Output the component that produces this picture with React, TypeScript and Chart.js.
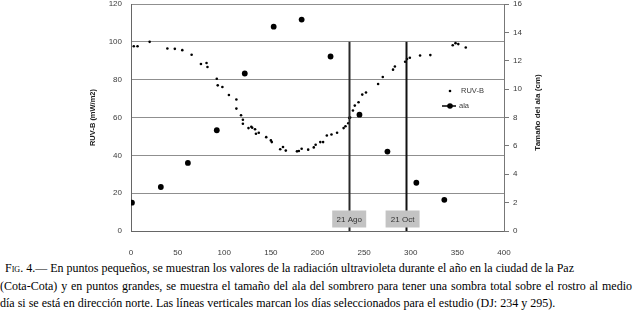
import React, { useEffect, useRef } from "react";
import { Chart, registerables } from "chart.js";

Chart.register(...registerables);

// Small points: RUV-B radiation (mW/m2) by day of year
const ruvDays = [3, 7, 20, 39, 47, 55, 65, 75, 81, 82, 92, 93, 98, 105, 113, 113, 118, 120, 120, 126, 129, 130, 133, 134, 137, 145, 150, 151, 160, 163, 166, 178, 180, 183, 190, 196, 198, 203, 206, 210, 215, 221, 228, 230, 233, 234, 235, 238, 240, 244, 248, 252, 265, 270, 281, 283, 294, 296, 299, 310, 321, 345, 348, 351, 359];
const ruvValues = [97.7, 97.7, 100, 96.5, 96.3, 95.6, 93.2, 88.3, 88.8, 86.7, 80.5, 77, 76.1, 71.9, 69.5, 64.7, 61.2, 58.8, 56.7, 54.4, 55.1, 54.6, 53.8, 51.4, 51.9, 49.6, 47.9, 47, 43.2, 44.4, 42.5, 42.1, 42.3, 43.5, 43, 44.2, 45.6, 47, 47, 50.5, 51, 51.9, 54.4, 55.4, 57, 59.8, 60, 63.7, 66.3, 68.1, 72.1, 73.2, 77.7, 81.4, 85.3, 87, 89.5, 90.9, 91.6, 92.8, 93, 98.2, 99.3, 98.8, 97];

// Large points: brim size (cm) by day of year
const alaDays = [1, 32, 61, 92, 122, 153, 183, 214, 245, 275, 306, 336];
const alaValues = [2.0, 3.1, 4.8, 7.1, 11.1, 14.4, 14.9, 12.3, 8.2, 5.6, 3.4, 2.2];

// Selected days (vertical lines)
const markerDays = [234, 295];
const markerLabels = ["21 Ago", "21 Oct"];

const xTicks = [0, 50, 100, 150, 200, 250, 300, 350, 400];
const leftTitle = "RUV-B (mW/m2)";
const rightTitle = "Tamaño del ala (cm)";

const TEXT = "#3a3a3a";
const SANS = "'Liberation Sans', Arial, sans-serif";

export default function App() {
  const ref = useRef<HTMLCanvasElement | null>(null);

  useEffect(() => {
    if (!ref.current) return;
    const overlay = {
      id: "overlay",
      afterDatasetsDraw(chart: any) {
        const { ctx, chartArea, scales } = chart;
        const x = scales.x;
        const y = scales.y;
        ctx.save();
        // vertical lines
        markerDays.forEach((d, i) => {
          const px = Math.round(x.getPixelForValue(d)) + 0.5;
          ctx.strokeStyle = i === 0 ? "#2a2a2a" : "#111";
          ctx.lineWidth = 2;
          ctx.beginPath();
          ctx.moveTo(px, y.getPixelForValue(100));
          ctx.lineTo(px, chartArea.bottom);
          ctx.stroke();
        });
        // label boxes
        markerDays.forEach((d, i) => {
          const cx = x.getPixelForValue(d) + (i === 1 ? -3.5 : 0);
          const w = 34, h = 17;
          const top = chartArea.bottom - 20.5;
          ctx.fillStyle = "#c3c3c3";
          ctx.fillRect(cx - w / 2, top, w, h);
          ctx.fillStyle = "#333";
          ctx.font = `8px ${SANS}`;
          ctx.textAlign = "center";
          ctx.textBaseline = "middle";
          ctx.fillText(markerLabels[i], cx, top + h / 2 + 0.5);
        });
        // legend
        const ds = chart.data.datasets;
        const lx = chartArea.right - 54;
        const ly1 = chartArea.top + 87;
        const ly2 = chartArea.top + 102;
        ctx.fillStyle = "#000";
        ctx.beginPath();
        ctx.arc(lx, ly1, 1.3, 0, Math.PI * 2);
        ctx.fill();
        ctx.strokeStyle = "#000";
        ctx.lineWidth = 1.5;
        ctx.beginPath();
        ctx.moveTo(lx - 8, ly2);
        ctx.lineTo(lx + 6, ly2);
        ctx.stroke();
        ctx.beginPath();
        ctx.arc(lx, ly2, 2.8, 0, Math.PI * 2);
        ctx.fill();
        ctx.fillStyle = TEXT;
        ctx.font = `7.5px ${SANS}`;
        ctx.textAlign = "left";
        ctx.textBaseline = "middle";
        ctx.fillText(ds[0].label, lx + 11, ly1);
        ctx.fillText(ds[1].label, lx + 9, ly2);
        // right axis title
        ctx.save();
        ctx.translate(538, (chartArea.top + chartArea.bottom) / 2 - 5);
        ctx.rotate(-Math.PI / 2);
        ctx.font = `bold 8px ${SANS}`;
        ctx.fillStyle = "#222";
        ctx.textAlign = "center";
        ctx.textBaseline = "middle";
        ctx.fillText(rightTitle, 0, 0);
        ctx.restore();
        ctx.restore();
      },
    };

    const chart = new Chart(ref.current, {
      type: "scatter",
      data: {
        datasets: [
          {
            label: "RUV-B",
            data: ruvDays.map((d, i) => ({ x: d, y: ruvValues[i] })),
            yAxisID: "y",
            pointRadius: 1.3,
            pointBorderWidth: 0,
            backgroundColor: "#000",
            borderColor: "#000",
          },
          {
            label: "ala",
            data: alaDays.map((d, i) => ({ x: d, y: alaValues[i] })),
            yAxisID: "y2",
            pointRadius: 2.9,
            pointBorderWidth: 0,
            backgroundColor: "#000",
            borderColor: "#000",
            showLine: false,
          },
        ],
      },
      options: {
        animation: false,
        responsive: false,
        maintainAspectRatio: false,
        layout: { padding: { top: 3.5, left: 0, right: 0, bottom: 0 } },
        plugins: { legend: { display: false }, tooltip: { enabled: false } },
        scales: {
          x: {
            type: "linear",
            min: 0,
            max: 400,
            afterBuildTicks: (s: any) => {
              s.ticks = xTicks.map((v) => ({ value: v }));
            },
            ticks: { color: TEXT, font: { family: SANS, size: 8 }, padding: 9, maxRotation: 0 },
            grid: { display: false },
            border: { display: true, color: "#666", width: 1 },
            afterFit: (s: any) => {
              s.height = 25;
              s.paddingLeft = 0;
              s.paddingRight = 0;
            },
          },
          y: {
            type: "linear",
            position: "left",
            min: 0,
            max: 120,
            ticks: { stepSize: 20, color: TEXT, font: { family: SANS, size: 8 }, padding: 9 },
            grid: { color: "#8f8f8f", lineWidth: 1, drawTicks: false },
            border: { display: true, color: "#666", width: 1 },
            title: {
              display: true,
              text: leftTitle,
              color: "#222",
              font: { family: SANS, size: 7.5, weight: "bold" },
              padding: { top: 88, bottom: 0 },
            },
            afterFit: (s: any) => {
              s.width = 131;
              s.paddingTop = 0;
              s.paddingBottom = 0;
            },
          },
          y2: {
            type: "linear",
            position: "right",
            min: 0,
            max: 16,
            ticks: { stepSize: 2, color: TEXT, font: { family: SANS, size: 8 }, padding: 4 },
            grid: { drawOnChartArea: false, drawTicks: true, tickLength: 5, color: "#777" },
            border: { display: true, color: "#777", width: 1 },
            afterFit: (s: any) => {
              s.width = 130;
              s.paddingTop = 0;
              s.paddingBottom = 0;
            },
          },
        },
      },
      plugins: [overlay],
    } as any);
    return () => chart.destroy();
  }, []);

  return (
    <div style={{ position: "absolute", left: 0, top: 0, width: 634, height: 316, background: "#fff" }}>
      <canvas ref={ref} width={634} height={256} style={{ position: "absolute", left: 0, top: 0, width: 634, height: 256 }} />
      <div
        style={{
          position: "absolute",
          left: 0,
          top: 260,
          width: 634,
          fontFamily: "'Liberation Serif', 'Times New Roman', serif",
          fontSize: "12px",
          lineHeight: "17.5px",
          color: "#000",
          whiteSpace: "nowrap",
        }}
      >
        <div style={{ paddingLeft: 5 }}>
          F<span style={{ fontVariant: "small-caps" }}>ig</span>. 4.— En puntos pequeños, se muestran los valores de la radiación ultravioleta durante el año en la ciudad de la Paz
        </div>
        <div style={{ width: 632, whiteSpace: "normal", textAlign: "justify", textAlignLast: "justify" } as any}>
          (Cota-Cota) y en puntos grandes, se muestra el tamaño del ala del sombrero para tener una sombra total sobre el rostro al medio
        </div>
        <div>día si se está en dirección norte. Las líneas verticales marcan los días seleccionados para el estudio (DJ: 234 y 295).</div>
      </div>
    </div>
  );
}
